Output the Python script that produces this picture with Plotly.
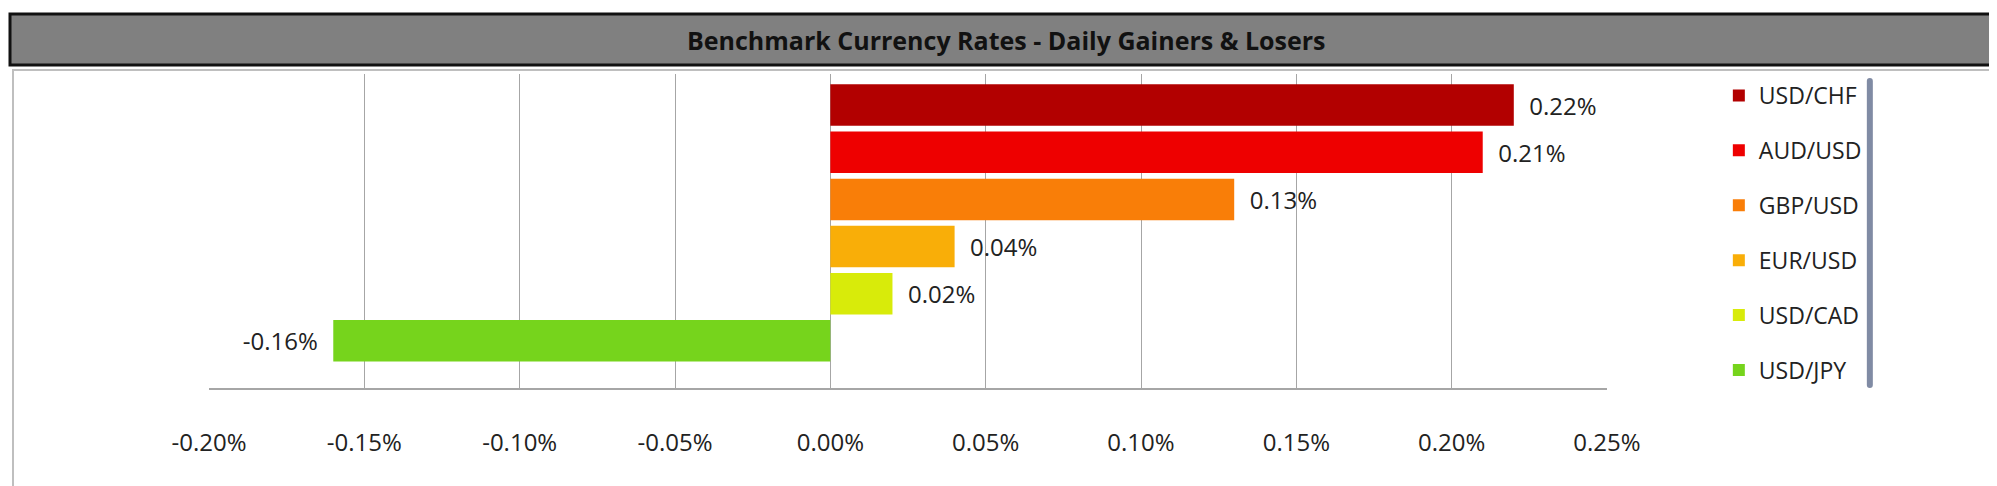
import plotly.graph_objects as go

pairs = ["USD/CHF", "AUD/USD", "GBP/USD", "EUR/USD", "USD/CAD", "USD/JPY"]
values = [0.22, 0.21, 0.13, 0.04, 0.02, -0.16]
colors = ["#B20000", "#EE0000", "#F97E08", "#F9AE08", "#D8EB0A", "#76D41C"]
tick_vals = [-0.20, -0.15, -0.10, -0.05, 0.00, 0.05, 0.10, 0.15, 0.20, 0.25]
tick_text = [f"{v:.2f}%" for v in tick_vals]

W, H = 1997, 486
L, R, T, B = 201, 398, 66, 106
fig = go.Figure()
for p, v, c in zip(pairs, values, colors):
    lab = f"  {v:.2f}%" if v >= 0 else f"{v:.2f}%  "
    fig.add_trace(go.Bar(
        y=[p], x=[v], orientation="h", name=p, marker_color=c,
        marker_line_width=0, legendgroup=p,
        text=[lab], textposition="outside", cliponaxis=False,
        textfont=dict(size=24, color="#222"),
    ))

fig.update_layout(
    width=W, height=H, barmode="overlay", bargap=0.12,
    paper_bgcolor="white", plot_bgcolor="white",
    font=dict(family="Open Sans, Liberation Sans, sans-serif", size=24, color="#222"),
    margin=dict(l=L, r=R, t=T, b=B),
    showlegend=True,
    legend=dict(x=1.08, xanchor="left", y=1.0, yanchor="top",
                font=dict(size=23), tracegroupgap=22, itemwidth=30,
                bgcolor="rgba(0,0,0,0)"),
    xaxis=dict(range=[-0.20, 0.25], tickvals=tick_vals, ticktext=tick_text,
               showgrid=True, gridcolor="#A6A6A6", gridwidth=1,
               zeroline=False, showline=True, linecolor="#A6A6A6", linewidth=2,
               ticks="outside", ticklen=32, tickcolor="rgba(0,0,0,0)",
               tickfont=dict(size=24)),
    yaxis=dict(categoryorder="array", categoryarray=pairs, range=[6.0, -0.66],
               showticklabels=False, showgrid=False, zeroline=False),
)
pw, ph = W - L - R, H - T - B
def px(x): return (x - L) / pw
def py(y): return (H - B - y) / ph
fig.add_shape(type="rect", xref="paper", yref="paper", x0=px(5), x1=px(1993), y0=py(62), y1=py(482),
              line=dict(color="#BFBFBF", width=2), fillcolor="rgba(0,0,0,0)", layer="below")
fig.add_shape(type="rect", xref="paper", yref="paper", x0=px(2), x1=px(1995), y0=py(57), y1=py(6),
              line=dict(color="#111", width=3), fillcolor="#808080")
fig.add_annotation(xref="paper", yref="paper", x=px(998), y=py(32), showarrow=False,
                   xanchor="center", yanchor="middle",
                   text="<b>Benchmark Currency Rates - Daily Gainers &amp; Losers</b>",
                   font=dict(size=25, color="#111"))
fig.write_html("out.html")
